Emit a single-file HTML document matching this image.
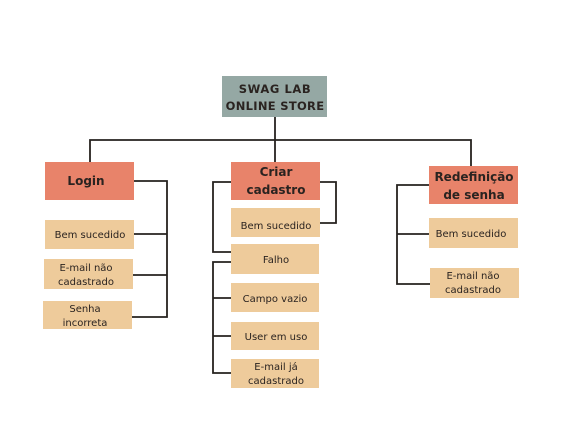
<!DOCTYPE html>
<html><head><meta charset="utf-8"><style>
html,body{margin:0;padding:0;background:#fff;width:563px;height:422px;overflow:hidden}
svg text{font-family:"DejaVu Sans","Liberation Sans",sans-serif;fill:#2a2320;text-anchor:middle}
</style></head><body>
<svg width="563" height="422" viewBox="0 0 563 422" xmlns="http://www.w3.org/2000/svg">
<g fill="none" stroke="#26221f" stroke-width="1.8">
<polyline points="275,117 275,162"/>
<polyline points="90,162 90,140 471,140 471,166"/>
<polyline points="134,181 167,181 167,317 132,317"/>
<line x1="134" y1="234" x2="167" y2="234"/>
<line x1="133" y1="275" x2="167" y2="275"/>
<polyline points="320,182 336,182 336,223 320,223"/>
<polyline points="231,182 213,182 213,252 231,252"/>
<polyline points="231,262 213,262 213,373 231,373"/>
<line x1="213" y1="298" x2="231" y2="298"/>
<line x1="213" y1="336" x2="231" y2="336"/>
<polyline points="429,185 397,185 397,284 430,284"/>
<line x1="397" y1="234" x2="429" y2="234"/>
</g>
<rect x="222" y="76" width="105" height="41" fill="#95a8a4"/>
<text x="275" y="93" font-size="11.5" font-weight="bold" letter-spacing="0.6">SWAG LAB</text>
<text x="275" y="110" font-size="11.5" font-weight="bold" letter-spacing="0.3">ONLINE STORE</text>
<g fill="#e8836a">
<rect x="45" y="162" width="89" height="38"/>
<rect x="231" y="162" width="89" height="38"/>
<rect x="429" y="166" width="89" height="38"/>
</g>
<text x="86" y="185" font-size="12" font-weight="bold">Login</text>
<text x="276" y="176" font-size="12" font-weight="bold">Criar</text>
<text x="276" y="194" font-size="12" font-weight="bold">cadastro</text>
<text x="474" y="181" font-size="12" font-weight="bold">Redefinição</text>
<text x="474" y="199" font-size="12" font-weight="bold">de senha</text>
<g fill="#eecb9b">
<rect x="45" y="220" width="89" height="29"/>
<rect x="44" y="259" width="89" height="30"/>
<rect x="43" y="301" width="89" height="28"/>
<rect x="231" y="208" width="89" height="29"/>
<rect x="231" y="244" width="88" height="30"/>
<rect x="231" y="283" width="88" height="29"/>
<rect x="231" y="322" width="88" height="28"/>
<rect x="231" y="359" width="88" height="29"/>
<rect x="429" y="218" width="89" height="30"/>
<rect x="430" y="268" width="89" height="30"/>
</g>
<g font-size="10">
<text x="90" y="238">Bem sucedido</text>
<text x="86" y="271">E-mail não</text>
<text x="86" y="285">cadastrado</text>
<text x="85" y="312">Senha</text>
<text x="85" y="326">incorreta</text>
<text x="276" y="229">Bem sucedido</text>
<text x="276" y="263">Falho</text>
<text x="275" y="302">Campo vazio</text>
<text x="276" y="340">User em uso</text>
<text x="276" y="370">E-mail já</text>
<text x="276" y="384">cadastrado</text>
<text x="471" y="237">Bem sucedido</text>
<text x="473" y="279">E-mail não</text>
<text x="473" y="293">cadastrado</text>
</g>
</svg>
</body></html>
